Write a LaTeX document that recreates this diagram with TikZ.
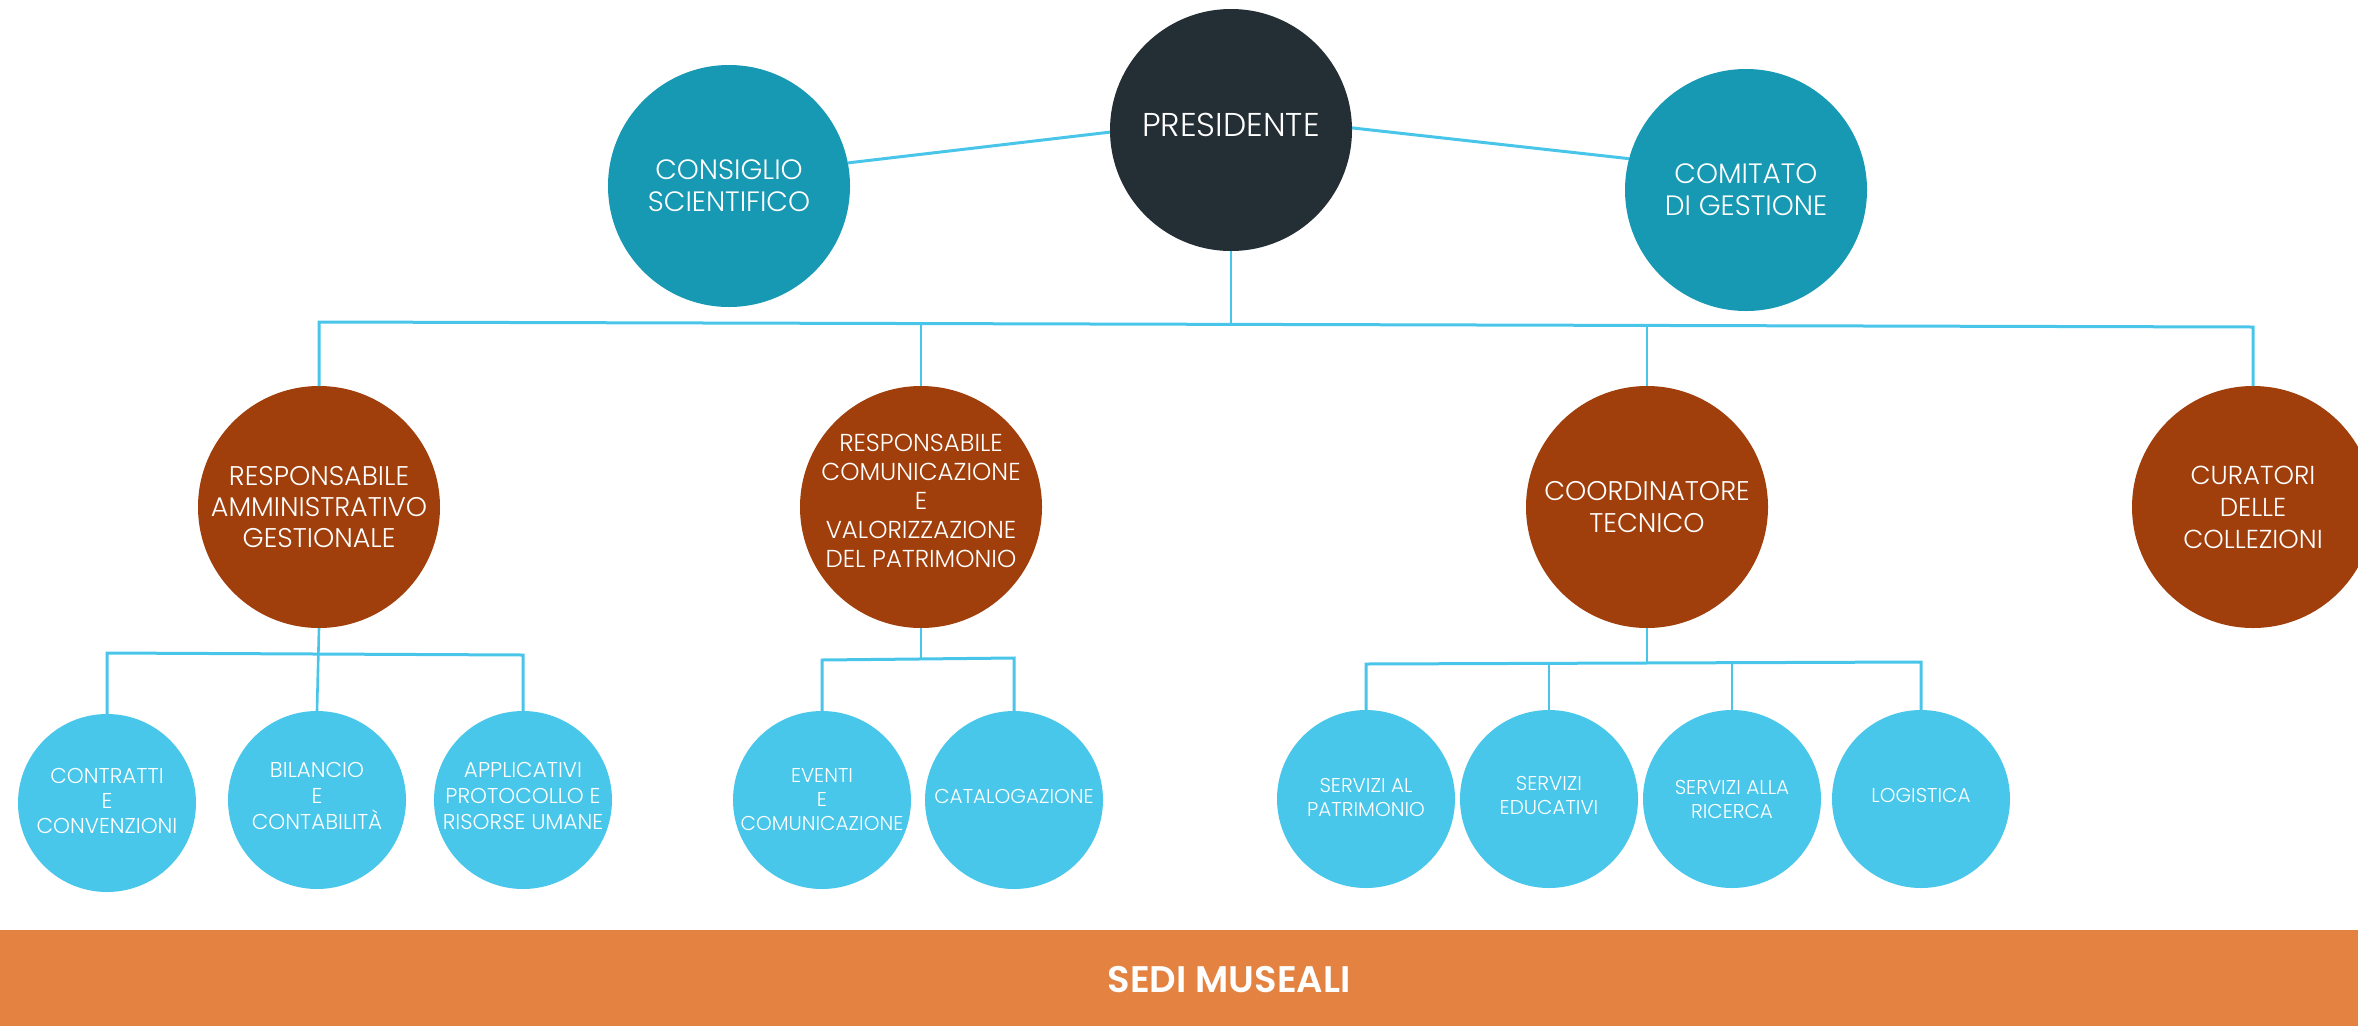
\documentclass[tikz,border=0pt]{standalone}
\usepackage{fontspec}
\setmainfont{Poppins}[UprightFont=* Light, BoldFont=* SemiBold]
\usetikzlibrary{calc}
\definecolor{cLine}{HTML}{4AC5EA}
\definecolor{cTeal}{HTML}{1798B3}
\definecolor{cDark}{HTML}{232E35}
\definecolor{cBrown}{HTML}{A03F0C}
\definecolor{cLight}{HTML}{49C7EA}
\definecolor{cOrange}{HTML}{E38241}
\begin{document}
\begin{tikzpicture}[x=1pt,y=-1pt,
  circ/.style={circle, inner sep=-30pt, outer sep=0pt, text=white, align=center},
  bigc/.style={circ, minimum size=242pt},
  smallc/.style={circ, minimum size=178pt, fill=cLight},
  fA/.style={font=\fontsize{#1}{1.15*#1}\selectfont},
  conn/.style={draw=cLine, line width=3pt},
  drop/.style={draw=cLine, line width=2.6pt}]
\useasboundingbox (0,0) rectangle (2358,1026);

% band
\fill[cOrange] (0,930) rectangle (2358,1026);
\node[text=white, font=\bfseries\fontsize{37}{44}\selectfont] (sedi) at (1229,980) {SEDI MUSEALI};

% level 1
\node[bigc, fill=cDark, font=\fontsize{33}{40}\selectfont, text depth=11pt] (pres) at (1231,130) {PRESIDENTE};
\node[bigc, fill=cTeal, font=\fontsize{28}{32}\selectfont] (cons) at (729,186) {CONSIGLIO\\SCIENTIFICO};
\node[bigc, fill=cTeal, font=\fontsize{28}{32}\selectfont] (comi) at (1746,190) {COMITATO\\DI GESTIONE};

% level 2
\node[bigc, fill=cBrown, font=\fontsize{27}{31}\selectfont] (amm) at (319,507) {RESPONSABILE\\AMMINISTRATIVO\\GESTIONALE};
\node[bigc, fill=cBrown, font=\fontsize{24.5}{29}\selectfont, text depth=12pt] (com) at (921,507) {RESPONSABILE\\COMUNICAZIONE\\E\\VALORIZZAZIONE\\DEL PATRIMONIO};
\node[bigc, fill=cBrown, font=\fontsize{27}{32}\selectfont] (coo) at (1647,507) {COORDINATORE\\TECNICO};
\node[bigc, fill=cBrown, font=\fontsize{26}{32}\selectfont] (cur) at (2253,507) {CURATORI\\DELLE\\COLLEZIONI};

% level 3
\node[smallc, font=\fontsize{21.5}{25}\selectfont, text depth=5pt] (contr) at (107,803) {CONTRATTI\\E\\CONVENZIONI};
\node[smallc, font=\fontsize{21.5}{26}\selectfont, text depth=8pt] (bil) at (317,800) {BILANCIO\\E\\CONTABILITÀ};
\node[smallc, font=\fontsize{21.5}{26}\selectfont, text depth=8pt] (appl) at (523,800) {APPLICATIVI\\PROTOCOLLO E\\RISORSE UMANE};
\node[smallc, font=\fontsize{20}{24}\selectfont] (event) at (822,800) {EVENTI\\E\\COMUNICAZIONE};
\node[smallc, font=\fontsize{20}{24}\selectfont, text depth=8pt] (cat) at (1014,800) {CATALOGAZIONE};
\node[smallc, font=\fontsize{20}{24}\selectfont, text depth=4pt] (sp) at (1366,799) {SERVIZI AL\\PATRIMONIO};
\node[smallc, font=\fontsize{20}{24}\selectfont, text depth=8pt] (se) at (1549,799) {SERVIZI\\EDUCATIVI};
\node[smallc, font=\fontsize{20}{24}\selectfont] (sr) at (1732,799) {SERVIZI ALLA\\RICERCA};
\node[smallc, font=\fontsize{20}{24}\selectfont, text depth=8pt] (log) at (1921,799) {LOGISTICA};

% connectors level 1
\draw[conn] (cons.11) -- (pres.181);
\draw[conn] (pres.1) -- (comi.165);

% main bus
\coordinate (busL) at (319,322);
\coordinate (busR) at (2253,327);
\draw[conn] (amm.north) -- (busL) -- (busR) -- (cur.north);
\draw[drop] (pres.south) -- ($(pres.south)+(0,73)$);
\draw[drop] (com.north) -- ($(com.north)+(0,-62)$);
\draw[drop] (coo.north) -- ($(coo.north)+(0,-60)$);

% amm bus
\coordinate (aL) at (107,653);
\coordinate (aR) at (523,655);
\draw[conn] (contr.north) -- (aL) -- (aR) -- (appl.north);
\draw[drop] (amm.south) -- (bil.north);

% com bus
\coordinate (cL) at (822,660);
\coordinate (cR) at (1014,658);
\draw[conn] (event.north) -- (cL) -- (cR) -- (cat.north);
\draw[drop] (com.south) -- ($(com.south)+(0,31)$);

% coo bus
\coordinate (oL) at (1366,664);
\coordinate (oR) at (1921,662);
\draw[conn] (sp.north) -- (oL) -- (oR) -- (log.north);
\draw[drop] (coo.south) -- ($(coo.south)+(0,35)$);
\draw[drop] (se.north) -- ($(se.north)+(0,-47)$);
\draw[drop] (sr.north) -- ($(sr.north)+(0,-47)$);
\end{tikzpicture}
\end{document}
